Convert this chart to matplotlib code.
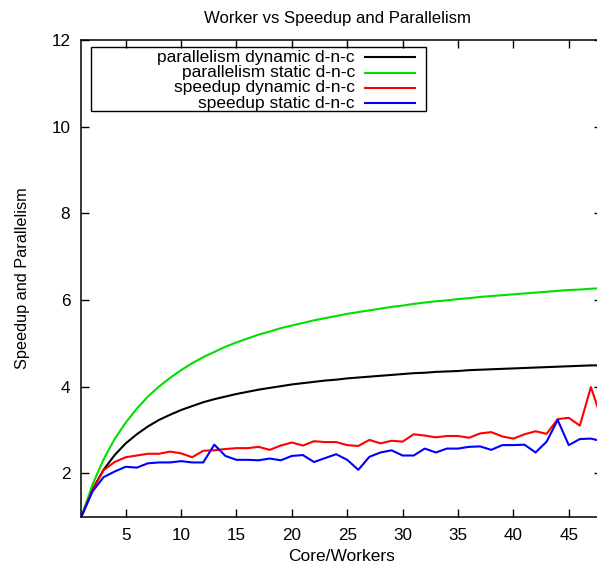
import matplotlib
matplotlib.use("Agg")
import matplotlib.pyplot as plt
from matplotlib.patches import Rectangle

plt.rcParams['font.family'] = ['Liberation Sans', 'DejaVu Sans']
plt.rcParams['font.size'] = 12.3

workers = list(range(1, 49))

par_dynamic = [1.00, 1.63, 2.08, 2.42, 2.69, 2.90, 3.08, 3.23, 3.35, 3.46,
               3.55, 3.64, 3.71, 3.77, 3.83, 3.88, 3.93, 3.97, 4.01, 4.05,
               4.08, 4.11, 4.14, 4.16, 4.19, 4.21, 4.23, 4.25, 4.27, 4.29,
               4.31, 4.32, 4.34, 4.35, 4.36, 4.38, 4.39, 4.40, 4.41, 4.42,
               4.43, 4.44, 4.45, 4.46, 4.47, 4.48, 4.49, 4.49]
par_static = [1.00, 1.74, 2.32, 2.79, 3.17, 3.49, 3.77, 4.00, 4.20, 4.38,
              4.54, 4.68, 4.80, 4.92, 5.02, 5.11, 5.20, 5.27, 5.35, 5.41,
              5.47, 5.53, 5.58, 5.63, 5.68, 5.72, 5.76, 5.80, 5.84, 5.87,
              5.91, 5.94, 5.97, 5.99, 6.02, 6.04, 6.07, 6.09, 6.11, 6.13,
              6.15, 6.17, 6.19, 6.21, 6.23, 6.24, 6.26, 6.27]
speed_dynamic = [1.00, 1.61, 2.07, 2.26, 2.37, 2.41, 2.45, 2.45, 2.50, 2.46,
                 2.37, 2.52, 2.53, 2.56, 2.58, 2.58, 2.61, 2.54, 2.64, 2.71,
                 2.64, 2.74, 2.72, 2.72, 2.65, 2.63, 2.77, 2.69, 2.75, 2.73,
                 2.90, 2.87, 2.83, 2.86, 2.86, 2.82, 2.92, 2.95, 2.85, 2.80,
                 2.90, 2.97, 2.91, 3.25, 3.28, 3.10, 3.99, 3.22]
speed_static = [1.00, 1.58, 1.91, 2.04, 2.15, 2.13, 2.23, 2.25, 2.25, 2.28,
                2.25, 2.25, 2.66, 2.40, 2.31, 2.31, 2.30, 2.34, 2.30, 2.40,
                2.42, 2.26, 2.35, 2.44, 2.31, 2.08, 2.38, 2.48, 2.53, 2.41,
                2.41, 2.57, 2.48, 2.57, 2.57, 2.61, 2.62, 2.54, 2.65, 2.65,
                2.66, 2.48, 2.73, 3.23, 2.65, 2.79, 2.80, 2.74]

series = [
    ('parallelism dynamic d-n-c', par_dynamic, '#000000'),
    ('parallelism static d-n-c', par_static, '#00e000'),
    ('speedup dynamic d-n-c', speed_dynamic, '#ff0000'),
    ('speedup static d-n-c', speed_static, '#0000ff'),
]

fig = plt.figure(figsize=(5.97, 5.64), dpi=100)
# right border sits just past the figure edge, like the original gnuplot output
ax = fig.add_axes([81.4 / 597, 47.4 / 564, 520.6 / 597, 476.6 / 564])

for name, vals, col in series:
    ax.plot(workers, vals, color=col, lw=1.5, label=name)

ax.set_xlim(1, 48)
ax.set_ylim(1, 12)
ax.set_xticks(range(5, 48, 5))
ax.set_yticks(range(2, 13, 2))
ax.tick_params(direction='in', length=5.5, width=1, top=True, right=True, pad=8)
for sp in ax.spines.values():
    sp.set_linewidth(1.1)

ax.set_title('Worker vs Speedup and Parallelism', fontsize=12.1, pad=12, x=0.491)
ax.set_xlabel('Core/Workers', fontsize=12.5, va='center')
ax.xaxis.set_label_coords(0.5, -0.0827)
ax.set_ylabel('Speedup and Parallelism', fontsize=11.7, va='center')
ax.yaxis.set_label_coords(-0.1130, 0.5)

# gnuplot-style key: labels right-aligned, sample line to the right
ax.add_patch(Rectangle((0.0184, 0.8517), 0.643, 0.1343, transform=ax.transAxes,
                       fill=False, edgecolor='black', lw=1.0, zorder=5))
row_y = [0.9643, 0.9318, 0.8993, 0.8668]
for (name, vals, col), yy in zip(series, row_y):
    ax.text(0.5256, yy, name, transform=ax.transAxes, ha='right', va='center',
            fontsize=12.5, zorder=6)
    ax.plot([0.5448, 0.6408], [yy, yy], transform=ax.transAxes, color=col, lw=1.5, zorder=6)

fig.savefig('out.png', dpi=100)
